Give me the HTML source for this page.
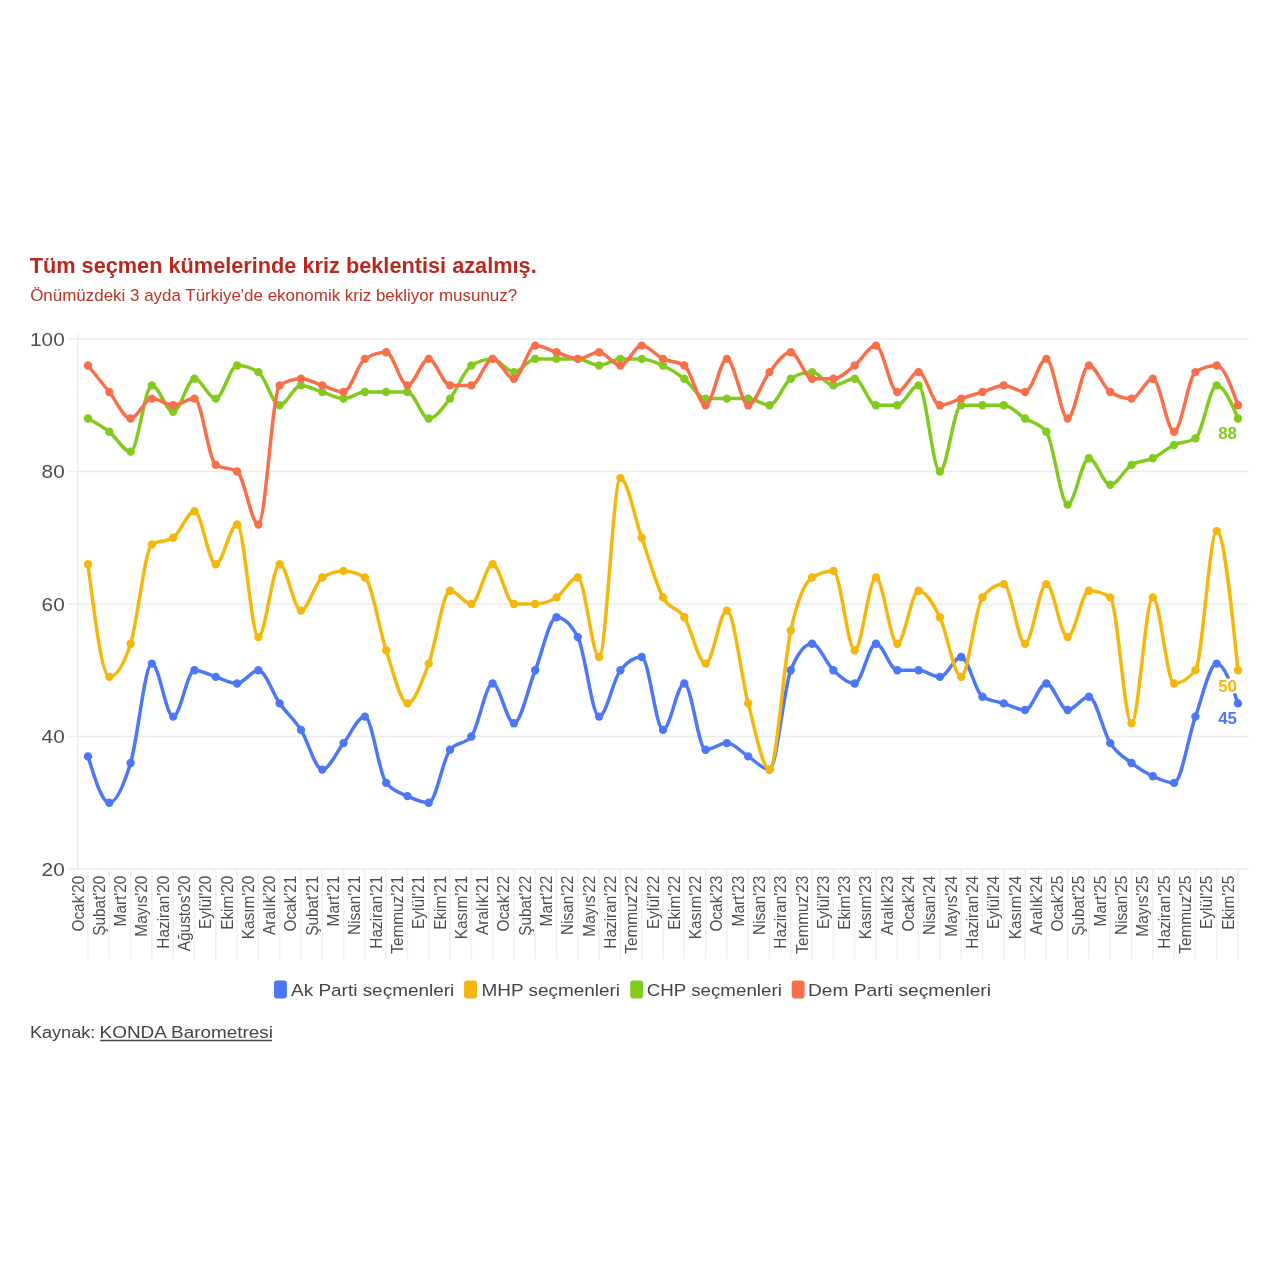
<!DOCTYPE html>
<html lang="tr"><head><meta charset="utf-8"><title>KONDA Barometresi</title>
<style>
html,body{margin:0;padding:0;background:#fff;}
body{width:1280px;height:1280px;position:relative;overflow:hidden;font-family:"Liberation Sans",Arial,sans-serif;}
svg{display:block}
</style></head><body>
<svg width="1280" height="1280" viewBox="0 0 1280 1280" style="position:absolute;left:0;top:0">
<line x1="67.5" x2="1248.6" y1="339.00" y2="339.00" stroke="#ececec" stroke-width="1.6"/>
<line x1="67.5" x2="1248.6" y1="471.50" y2="471.50" stroke="#ececec" stroke-width="1.6"/>
<line x1="67.5" x2="1248.6" y1="604.00" y2="604.00" stroke="#ececec" stroke-width="1.6"/>
<line x1="67.5" x2="1248.6" y1="736.50" y2="736.50" stroke="#ececec" stroke-width="1.6"/>
<line x1="67.5" x2="1248.6" y1="869.00" y2="869.00" stroke="#ececec" stroke-width="1.6"/>
<line x1="77.8" x2="77.8" y1="334.00" y2="869.00" stroke="#ececec" stroke-width="1.6"/>
<line x1="88.00" x2="88.00" y1="869.00" y2="959.5" stroke="#f0f0f0" stroke-width="1.6"/>
<line x1="109.30" x2="109.30" y1="869.00" y2="959.5" stroke="#f0f0f0" stroke-width="1.6"/>
<line x1="130.59" x2="130.59" y1="869.00" y2="959.5" stroke="#f0f0f0" stroke-width="1.6"/>
<line x1="151.89" x2="151.89" y1="869.00" y2="959.5" stroke="#f0f0f0" stroke-width="1.6"/>
<line x1="173.19" x2="173.19" y1="869.00" y2="959.5" stroke="#f0f0f0" stroke-width="1.6"/>
<line x1="194.48" x2="194.48" y1="869.00" y2="959.5" stroke="#f0f0f0" stroke-width="1.6"/>
<line x1="215.78" x2="215.78" y1="869.00" y2="959.5" stroke="#f0f0f0" stroke-width="1.6"/>
<line x1="237.07" x2="237.07" y1="869.00" y2="959.5" stroke="#f0f0f0" stroke-width="1.6"/>
<line x1="258.37" x2="258.37" y1="869.00" y2="959.5" stroke="#f0f0f0" stroke-width="1.6"/>
<line x1="279.67" x2="279.67" y1="869.00" y2="959.5" stroke="#f0f0f0" stroke-width="1.6"/>
<line x1="300.96" x2="300.96" y1="869.00" y2="959.5" stroke="#f0f0f0" stroke-width="1.6"/>
<line x1="322.26" x2="322.26" y1="869.00" y2="959.5" stroke="#f0f0f0" stroke-width="1.6"/>
<line x1="343.56" x2="343.56" y1="869.00" y2="959.5" stroke="#f0f0f0" stroke-width="1.6"/>
<line x1="364.85" x2="364.85" y1="869.00" y2="959.5" stroke="#f0f0f0" stroke-width="1.6"/>
<line x1="386.15" x2="386.15" y1="869.00" y2="959.5" stroke="#f0f0f0" stroke-width="1.6"/>
<line x1="407.44" x2="407.44" y1="869.00" y2="959.5" stroke="#f0f0f0" stroke-width="1.6"/>
<line x1="428.74" x2="428.74" y1="869.00" y2="959.5" stroke="#f0f0f0" stroke-width="1.6"/>
<line x1="450.04" x2="450.04" y1="869.00" y2="959.5" stroke="#f0f0f0" stroke-width="1.6"/>
<line x1="471.33" x2="471.33" y1="869.00" y2="959.5" stroke="#f0f0f0" stroke-width="1.6"/>
<line x1="492.63" x2="492.63" y1="869.00" y2="959.5" stroke="#f0f0f0" stroke-width="1.6"/>
<line x1="513.93" x2="513.93" y1="869.00" y2="959.5" stroke="#f0f0f0" stroke-width="1.6"/>
<line x1="535.22" x2="535.22" y1="869.00" y2="959.5" stroke="#f0f0f0" stroke-width="1.6"/>
<line x1="556.52" x2="556.52" y1="869.00" y2="959.5" stroke="#f0f0f0" stroke-width="1.6"/>
<line x1="577.81" x2="577.81" y1="869.00" y2="959.5" stroke="#f0f0f0" stroke-width="1.6"/>
<line x1="599.11" x2="599.11" y1="869.00" y2="959.5" stroke="#f0f0f0" stroke-width="1.6"/>
<line x1="620.41" x2="620.41" y1="869.00" y2="959.5" stroke="#f0f0f0" stroke-width="1.6"/>
<line x1="641.70" x2="641.70" y1="869.00" y2="959.5" stroke="#f0f0f0" stroke-width="1.6"/>
<line x1="663.00" x2="663.00" y1="869.00" y2="959.5" stroke="#f0f0f0" stroke-width="1.6"/>
<line x1="684.30" x2="684.30" y1="869.00" y2="959.5" stroke="#f0f0f0" stroke-width="1.6"/>
<line x1="705.59" x2="705.59" y1="869.00" y2="959.5" stroke="#f0f0f0" stroke-width="1.6"/>
<line x1="726.89" x2="726.89" y1="869.00" y2="959.5" stroke="#f0f0f0" stroke-width="1.6"/>
<line x1="748.19" x2="748.19" y1="869.00" y2="959.5" stroke="#f0f0f0" stroke-width="1.6"/>
<line x1="769.48" x2="769.48" y1="869.00" y2="959.5" stroke="#f0f0f0" stroke-width="1.6"/>
<line x1="790.78" x2="790.78" y1="869.00" y2="959.5" stroke="#f0f0f0" stroke-width="1.6"/>
<line x1="812.07" x2="812.07" y1="869.00" y2="959.5" stroke="#f0f0f0" stroke-width="1.6"/>
<line x1="833.37" x2="833.37" y1="869.00" y2="959.5" stroke="#f0f0f0" stroke-width="1.6"/>
<line x1="854.67" x2="854.67" y1="869.00" y2="959.5" stroke="#f0f0f0" stroke-width="1.6"/>
<line x1="875.96" x2="875.96" y1="869.00" y2="959.5" stroke="#f0f0f0" stroke-width="1.6"/>
<line x1="897.26" x2="897.26" y1="869.00" y2="959.5" stroke="#f0f0f0" stroke-width="1.6"/>
<line x1="918.56" x2="918.56" y1="869.00" y2="959.5" stroke="#f0f0f0" stroke-width="1.6"/>
<line x1="939.85" x2="939.85" y1="869.00" y2="959.5" stroke="#f0f0f0" stroke-width="1.6"/>
<line x1="961.15" x2="961.15" y1="869.00" y2="959.5" stroke="#f0f0f0" stroke-width="1.6"/>
<line x1="982.44" x2="982.44" y1="869.00" y2="959.5" stroke="#f0f0f0" stroke-width="1.6"/>
<line x1="1003.74" x2="1003.74" y1="869.00" y2="959.5" stroke="#f0f0f0" stroke-width="1.6"/>
<line x1="1025.04" x2="1025.04" y1="869.00" y2="959.5" stroke="#f0f0f0" stroke-width="1.6"/>
<line x1="1046.33" x2="1046.33" y1="869.00" y2="959.5" stroke="#f0f0f0" stroke-width="1.6"/>
<line x1="1067.63" x2="1067.63" y1="869.00" y2="959.5" stroke="#f0f0f0" stroke-width="1.6"/>
<line x1="1088.93" x2="1088.93" y1="869.00" y2="959.5" stroke="#f0f0f0" stroke-width="1.6"/>
<line x1="1110.22" x2="1110.22" y1="869.00" y2="959.5" stroke="#f0f0f0" stroke-width="1.6"/>
<line x1="1131.52" x2="1131.52" y1="869.00" y2="959.5" stroke="#f0f0f0" stroke-width="1.6"/>
<line x1="1152.81" x2="1152.81" y1="869.00" y2="959.5" stroke="#f0f0f0" stroke-width="1.6"/>
<line x1="1174.11" x2="1174.11" y1="869.00" y2="959.5" stroke="#f0f0f0" stroke-width="1.6"/>
<line x1="1195.41" x2="1195.41" y1="869.00" y2="959.5" stroke="#f0f0f0" stroke-width="1.6"/>
<line x1="1216.70" x2="1216.70" y1="869.00" y2="959.5" stroke="#f0f0f0" stroke-width="1.6"/>
<line x1="1238.00" x2="1238.00" y1="869.00" y2="959.5" stroke="#f0f0f0" stroke-width="1.6"/>
<g font-family="'Liberation Sans', Arial, sans-serif" font-size="18.5" fill="#4d4d4d" text-anchor="end" >
<text x="64.7" y="345.50" textLength="34.6" lengthAdjust="spacingAndGlyphs">100</text>
<text x="64.7" y="478.00" textLength="23.1" lengthAdjust="spacingAndGlyphs">80</text>
<text x="64.7" y="610.50" textLength="23.1" lengthAdjust="spacingAndGlyphs">60</text>
<text x="64.7" y="743.00" textLength="23.1" lengthAdjust="spacingAndGlyphs">40</text>
<text x="64.7" y="875.50" textLength="23.1" lengthAdjust="spacingAndGlyphs">20</text>
</g>
<g font-family="'Liberation Sans', Arial, sans-serif" font-size="16" fill="#4d4d4d" text-anchor="end" >
<text transform="translate(83.50,875.6) rotate(-90) scale(0.962,1)">Ocak'20</text>
<text transform="translate(104.80,875.6) rotate(-90) scale(0.962,1)">Şubat'20</text>
<text transform="translate(126.09,875.6) rotate(-90) scale(0.962,1)">Mart'20</text>
<text transform="translate(147.39,875.6) rotate(-90) scale(0.962,1)">Mayıs'20</text>
<text transform="translate(168.69,875.6) rotate(-90) scale(0.962,1)">Haziran'20</text>
<text transform="translate(189.98,875.6) rotate(-90) scale(0.962,1)">Ağustos'20</text>
<text transform="translate(211.28,875.6) rotate(-90) scale(0.962,1)">Eylül'20</text>
<text transform="translate(232.57,875.6) rotate(-90) scale(0.962,1)">Ekim'20</text>
<text transform="translate(253.87,875.6) rotate(-90) scale(0.962,1)">Kasım'20</text>
<text transform="translate(275.17,875.6) rotate(-90) scale(0.962,1)">Aralık'20</text>
<text transform="translate(296.46,875.6) rotate(-90) scale(0.962,1)">Ocak'21</text>
<text transform="translate(317.76,875.6) rotate(-90) scale(0.962,1)">Şubat'21</text>
<text transform="translate(339.06,875.6) rotate(-90) scale(0.962,1)">Mart'21</text>
<text transform="translate(360.35,875.6) rotate(-90) scale(0.962,1)">Nisan'21</text>
<text transform="translate(381.65,875.6) rotate(-90) scale(0.962,1)">Haziran'21</text>
<text transform="translate(402.94,875.6) rotate(-90) scale(0.962,1)">Temmuz'21</text>
<text transform="translate(424.24,875.6) rotate(-90) scale(0.962,1)">Eylül'21</text>
<text transform="translate(445.54,875.6) rotate(-90) scale(0.962,1)">Ekim'21</text>
<text transform="translate(466.83,875.6) rotate(-90) scale(0.962,1)">Kasım'21</text>
<text transform="translate(488.13,875.6) rotate(-90) scale(0.962,1)">Aralık'21</text>
<text transform="translate(509.43,875.6) rotate(-90) scale(0.962,1)">Ocak'22</text>
<text transform="translate(530.72,875.6) rotate(-90) scale(0.962,1)">Şubat'22</text>
<text transform="translate(552.02,875.6) rotate(-90) scale(0.962,1)">Mart'22</text>
<text transform="translate(573.31,875.6) rotate(-90) scale(0.962,1)">Nisan'22</text>
<text transform="translate(594.61,875.6) rotate(-90) scale(0.962,1)">Mayıs'22</text>
<text transform="translate(615.91,875.6) rotate(-90) scale(0.962,1)">Haziran'22</text>
<text transform="translate(637.20,875.6) rotate(-90) scale(0.962,1)">Temmuz'22</text>
<text transform="translate(658.50,875.6) rotate(-90) scale(0.962,1)">Eylül'22</text>
<text transform="translate(679.80,875.6) rotate(-90) scale(0.962,1)">Ekim'22</text>
<text transform="translate(701.09,875.6) rotate(-90) scale(0.962,1)">Kasım'22</text>
<text transform="translate(722.39,875.6) rotate(-90) scale(0.962,1)">Ocak'23</text>
<text transform="translate(743.69,875.6) rotate(-90) scale(0.962,1)">Mart'23</text>
<text transform="translate(764.98,875.6) rotate(-90) scale(0.962,1)">Nisan'23</text>
<text transform="translate(786.28,875.6) rotate(-90) scale(0.962,1)">Haziran'23</text>
<text transform="translate(807.57,875.6) rotate(-90) scale(0.962,1)">Temmuz'23</text>
<text transform="translate(828.87,875.6) rotate(-90) scale(0.962,1)">Eylül'23</text>
<text transform="translate(850.17,875.6) rotate(-90) scale(0.962,1)">Ekim'23</text>
<text transform="translate(871.46,875.6) rotate(-90) scale(0.962,1)">Kasım'23</text>
<text transform="translate(892.76,875.6) rotate(-90) scale(0.962,1)">Aralık'23</text>
<text transform="translate(914.06,875.6) rotate(-90) scale(0.962,1)">Ocak'24</text>
<text transform="translate(935.35,875.6) rotate(-90) scale(0.962,1)">Nisan'24</text>
<text transform="translate(956.65,875.6) rotate(-90) scale(0.962,1)">Mayıs'24</text>
<text transform="translate(977.94,875.6) rotate(-90) scale(0.962,1)">Haziran'24</text>
<text transform="translate(999.24,875.6) rotate(-90) scale(0.962,1)">Eylül'24</text>
<text transform="translate(1020.54,875.6) rotate(-90) scale(0.962,1)">Kasım'24</text>
<text transform="translate(1041.83,875.6) rotate(-90) scale(0.962,1)">Aralık'24</text>
<text transform="translate(1063.13,875.6) rotate(-90) scale(0.962,1)">Ocak'25</text>
<text transform="translate(1084.43,875.6) rotate(-90) scale(0.962,1)">Şubat'25</text>
<text transform="translate(1105.72,875.6) rotate(-90) scale(0.962,1)">Mart'25</text>
<text transform="translate(1127.02,875.6) rotate(-90) scale(0.962,1)">Nisan'25</text>
<text transform="translate(1148.31,875.6) rotate(-90) scale(0.962,1)">Mayıs'25</text>
<text transform="translate(1169.61,875.6) rotate(-90) scale(0.962,1)">Haziran'25</text>
<text transform="translate(1190.91,875.6) rotate(-90) scale(0.962,1)">Temmuz'25</text>
<text transform="translate(1212.20,875.6) rotate(-90) scale(0.962,1)">Eylül'25</text>
<text transform="translate(1233.50,875.6) rotate(-90) scale(0.962,1)">Ekim'25</text>
</g>
<g fill="#4b77f8" stroke="none">
<path d="M88.00,756.38C95.10,779.56,102.20,802.75,109.30,802.75C116.40,802.75,123.49,786.19,130.59,763.00C137.69,739.81,144.79,663.62,151.89,663.62C158.99,663.62,166.09,716.62,173.19,716.62C180.28,716.62,187.38,670.25,194.48,670.25C201.58,670.25,208.68,674.67,215.78,676.88C222.88,679.08,229.98,683.50,237.07,683.50C244.17,683.50,251.27,670.25,258.37,670.25C265.47,670.25,272.57,693.44,279.67,703.38C286.77,713.31,293.86,718.83,300.96,729.88C308.06,740.92,315.16,769.62,322.26,769.62C329.36,769.62,336.46,751.96,343.56,743.12C350.65,734.29,357.75,716.62,364.85,716.62C371.95,716.62,379.05,774.04,386.15,782.88C393.25,791.71,400.35,792.81,407.44,796.12C414.54,799.44,421.64,802.75,428.74,802.75C435.84,802.75,442.94,758.58,450.04,749.75C457.14,740.92,464.23,745.33,471.33,736.50C478.43,727.67,485.53,683.50,492.63,683.50C499.73,683.50,506.83,723.25,513.93,723.25C521.02,723.25,528.12,687.92,535.22,670.25C542.32,652.58,549.42,617.25,556.52,617.25C563.62,617.25,570.72,623.88,577.81,637.12C584.91,650.38,592.01,716.62,599.11,716.62C606.21,716.62,613.31,679.08,620.41,670.25C627.51,661.42,634.60,657.00,641.70,657.00C648.80,657.00,655.90,729.88,663.00,729.88C670.10,729.88,677.20,683.50,684.30,683.50C691.40,683.50,698.49,749.75,705.59,749.75C712.69,749.75,719.79,743.12,726.89,743.12C733.99,743.12,741.09,751.96,748.19,756.38C755.28,760.79,762.38,769.62,769.48,769.62C776.58,769.62,783.68,687.92,790.78,670.25C797.88,652.58,804.98,643.75,812.07,643.75C819.17,643.75,826.27,663.62,833.37,670.25C840.47,676.88,847.57,683.50,854.67,683.50C861.77,683.50,868.86,643.75,875.96,643.75C883.06,643.75,890.16,670.25,897.26,670.25C904.36,670.25,911.46,670.25,918.56,670.25C925.65,670.25,932.75,676.88,939.85,676.88C946.95,676.88,954.05,657.00,961.15,657.00C968.25,657.00,975.35,692.33,982.44,696.75C989.54,701.17,996.64,701.17,1003.74,703.38C1010.84,705.58,1017.94,710.00,1025.04,710.00C1032.14,710.00,1039.23,683.50,1046.33,683.50C1053.43,683.50,1060.53,710.00,1067.63,710.00C1074.73,710.00,1081.83,696.75,1088.93,696.75C1096.02,696.75,1103.12,732.08,1110.22,743.12C1117.32,754.17,1124.42,757.48,1131.52,763.00C1138.62,768.52,1145.72,772.94,1152.81,776.25C1159.91,779.56,1167.01,782.88,1174.11,782.88C1181.21,782.88,1188.31,736.50,1195.41,716.62C1202.51,696.75,1209.60,663.62,1216.70,663.62C1223.80,663.62,1230.90,683.50,1238.00,703.38" fill="none" stroke="#4b77f8" stroke-width="3.5" stroke-linejoin="round" stroke-linecap="round"/>
<circle cx="88.00" cy="756.38" r="4.2"/>
<circle cx="109.30" cy="802.75" r="4.2"/>
<circle cx="130.59" cy="763.00" r="4.2"/>
<circle cx="151.89" cy="663.62" r="4.2"/>
<circle cx="173.19" cy="716.62" r="4.2"/>
<circle cx="194.48" cy="670.25" r="4.2"/>
<circle cx="215.78" cy="676.88" r="4.2"/>
<circle cx="237.07" cy="683.50" r="4.2"/>
<circle cx="258.37" cy="670.25" r="4.2"/>
<circle cx="279.67" cy="703.38" r="4.2"/>
<circle cx="300.96" cy="729.88" r="4.2"/>
<circle cx="322.26" cy="769.62" r="4.2"/>
<circle cx="343.56" cy="743.12" r="4.2"/>
<circle cx="364.85" cy="716.62" r="4.2"/>
<circle cx="386.15" cy="782.88" r="4.2"/>
<circle cx="407.44" cy="796.12" r="4.2"/>
<circle cx="428.74" cy="802.75" r="4.2"/>
<circle cx="450.04" cy="749.75" r="4.2"/>
<circle cx="471.33" cy="736.50" r="4.2"/>
<circle cx="492.63" cy="683.50" r="4.2"/>
<circle cx="513.93" cy="723.25" r="4.2"/>
<circle cx="535.22" cy="670.25" r="4.2"/>
<circle cx="556.52" cy="617.25" r="4.2"/>
<circle cx="577.81" cy="637.12" r="4.2"/>
<circle cx="599.11" cy="716.62" r="4.2"/>
<circle cx="620.41" cy="670.25" r="4.2"/>
<circle cx="641.70" cy="657.00" r="4.2"/>
<circle cx="663.00" cy="729.88" r="4.2"/>
<circle cx="684.30" cy="683.50" r="4.2"/>
<circle cx="705.59" cy="749.75" r="4.2"/>
<circle cx="726.89" cy="743.12" r="4.2"/>
<circle cx="748.19" cy="756.38" r="4.2"/>
<circle cx="769.48" cy="769.62" r="4.2"/>
<circle cx="790.78" cy="670.25" r="4.2"/>
<circle cx="812.07" cy="643.75" r="4.2"/>
<circle cx="833.37" cy="670.25" r="4.2"/>
<circle cx="854.67" cy="683.50" r="4.2"/>
<circle cx="875.96" cy="643.75" r="4.2"/>
<circle cx="897.26" cy="670.25" r="4.2"/>
<circle cx="918.56" cy="670.25" r="4.2"/>
<circle cx="939.85" cy="676.88" r="4.2"/>
<circle cx="961.15" cy="657.00" r="4.2"/>
<circle cx="982.44" cy="696.75" r="4.2"/>
<circle cx="1003.74" cy="703.38" r="4.2"/>
<circle cx="1025.04" cy="710.00" r="4.2"/>
<circle cx="1046.33" cy="683.50" r="4.2"/>
<circle cx="1067.63" cy="710.00" r="4.2"/>
<circle cx="1088.93" cy="696.75" r="4.2"/>
<circle cx="1110.22" cy="743.12" r="4.2"/>
<circle cx="1131.52" cy="763.00" r="4.2"/>
<circle cx="1152.81" cy="776.25" r="4.2"/>
<circle cx="1174.11" cy="782.88" r="4.2"/>
<circle cx="1195.41" cy="716.62" r="4.2"/>
<circle cx="1216.70" cy="663.62" r="4.2"/>
<circle cx="1238.00" cy="703.38" r="4.2"/>
</g>
<g fill="#f5b70b" stroke="none">
<path d="M88.00,564.25C95.10,620.56,102.20,676.88,109.30,676.88C116.40,676.88,123.49,665.83,130.59,643.75C137.69,621.67,144.79,548.79,151.89,544.38C158.99,539.96,166.09,542.17,173.19,537.75C180.28,533.33,187.38,511.25,194.48,511.25C201.58,511.25,208.68,564.25,215.78,564.25C222.88,564.25,229.98,524.50,237.07,524.50C244.17,524.50,251.27,637.12,258.37,637.12C265.47,637.12,272.57,564.25,279.67,564.25C286.77,564.25,293.86,610.62,300.96,610.62C308.06,610.62,315.16,581.92,322.26,577.50C329.36,573.08,336.46,570.88,343.56,570.88C350.65,570.88,357.75,573.08,364.85,577.50C371.95,581.92,379.05,629.40,386.15,650.38C393.25,671.35,400.35,703.38,407.44,703.38C414.54,703.38,421.64,682.40,428.74,663.62C435.84,644.85,442.94,590.75,450.04,590.75C457.14,590.75,464.23,604.00,471.33,604.00C478.43,604.00,485.53,564.25,492.63,564.25C499.73,564.25,506.83,604.00,513.93,604.00C521.02,604.00,528.12,604.00,535.22,604.00C542.32,604.00,549.42,601.79,556.52,597.38C563.62,592.96,570.72,577.50,577.81,577.50C584.91,577.50,592.01,657.00,599.11,657.00C606.21,657.00,613.31,478.12,620.41,478.12C627.51,478.12,634.60,517.88,641.70,537.75C648.80,557.62,655.90,584.12,663.00,597.38C670.10,610.62,677.20,606.21,684.30,617.25C691.40,628.29,698.49,663.62,705.59,663.62C712.69,663.62,719.79,610.62,726.89,610.62C733.99,610.62,741.09,676.88,748.19,703.38C755.28,729.88,762.38,769.62,769.48,769.62C776.58,769.62,783.68,662.52,790.78,630.50C797.88,598.48,804.98,581.92,812.07,577.50C819.17,573.08,826.27,570.88,833.37,570.88C840.47,570.88,847.57,650.38,854.67,650.38C861.77,650.38,868.86,577.50,875.96,577.50C883.06,577.50,890.16,643.75,897.26,643.75C904.36,643.75,911.46,590.75,918.56,590.75C925.65,590.75,932.75,602.90,939.85,617.25C946.95,631.60,954.05,676.88,961.15,676.88C968.25,676.88,975.35,606.21,982.44,597.38C989.54,588.54,996.64,584.12,1003.74,584.12C1010.84,584.12,1017.94,643.75,1025.04,643.75C1032.14,643.75,1039.23,584.12,1046.33,584.12C1053.43,584.12,1060.53,637.12,1067.63,637.12C1074.73,637.12,1081.83,590.75,1088.93,590.75C1096.02,590.75,1103.12,592.96,1110.22,597.38C1117.32,601.79,1124.42,723.25,1131.52,723.25C1138.62,723.25,1145.72,597.38,1152.81,597.38C1159.91,597.38,1167.01,683.50,1174.11,683.50C1181.21,683.50,1188.31,679.08,1195.41,670.25C1202.51,661.42,1209.60,531.12,1216.70,531.12C1223.80,531.12,1230.90,600.69,1238.00,670.25" fill="none" stroke="#f5b70b" stroke-width="3.5" stroke-linejoin="round" stroke-linecap="round"/>
<circle cx="88.00" cy="564.25" r="4.2"/>
<circle cx="109.30" cy="676.88" r="4.2"/>
<circle cx="130.59" cy="643.75" r="4.2"/>
<circle cx="151.89" cy="544.38" r="4.2"/>
<circle cx="173.19" cy="537.75" r="4.2"/>
<circle cx="194.48" cy="511.25" r="4.2"/>
<circle cx="215.78" cy="564.25" r="4.2"/>
<circle cx="237.07" cy="524.50" r="4.2"/>
<circle cx="258.37" cy="637.12" r="4.2"/>
<circle cx="279.67" cy="564.25" r="4.2"/>
<circle cx="300.96" cy="610.62" r="4.2"/>
<circle cx="322.26" cy="577.50" r="4.2"/>
<circle cx="343.56" cy="570.88" r="4.2"/>
<circle cx="364.85" cy="577.50" r="4.2"/>
<circle cx="386.15" cy="650.38" r="4.2"/>
<circle cx="407.44" cy="703.38" r="4.2"/>
<circle cx="428.74" cy="663.62" r="4.2"/>
<circle cx="450.04" cy="590.75" r="4.2"/>
<circle cx="471.33" cy="604.00" r="4.2"/>
<circle cx="492.63" cy="564.25" r="4.2"/>
<circle cx="513.93" cy="604.00" r="4.2"/>
<circle cx="535.22" cy="604.00" r="4.2"/>
<circle cx="556.52" cy="597.38" r="4.2"/>
<circle cx="577.81" cy="577.50" r="4.2"/>
<circle cx="599.11" cy="657.00" r="4.2"/>
<circle cx="620.41" cy="478.12" r="4.2"/>
<circle cx="641.70" cy="537.75" r="4.2"/>
<circle cx="663.00" cy="597.38" r="4.2"/>
<circle cx="684.30" cy="617.25" r="4.2"/>
<circle cx="705.59" cy="663.62" r="4.2"/>
<circle cx="726.89" cy="610.62" r="4.2"/>
<circle cx="748.19" cy="703.38" r="4.2"/>
<circle cx="769.48" cy="769.62" r="4.2"/>
<circle cx="790.78" cy="630.50" r="4.2"/>
<circle cx="812.07" cy="577.50" r="4.2"/>
<circle cx="833.37" cy="570.88" r="4.2"/>
<circle cx="854.67" cy="650.38" r="4.2"/>
<circle cx="875.96" cy="577.50" r="4.2"/>
<circle cx="897.26" cy="643.75" r="4.2"/>
<circle cx="918.56" cy="590.75" r="4.2"/>
<circle cx="939.85" cy="617.25" r="4.2"/>
<circle cx="961.15" cy="676.88" r="4.2"/>
<circle cx="982.44" cy="597.38" r="4.2"/>
<circle cx="1003.74" cy="584.12" r="4.2"/>
<circle cx="1025.04" cy="643.75" r="4.2"/>
<circle cx="1046.33" cy="584.12" r="4.2"/>
<circle cx="1067.63" cy="637.12" r="4.2"/>
<circle cx="1088.93" cy="590.75" r="4.2"/>
<circle cx="1110.22" cy="597.38" r="4.2"/>
<circle cx="1131.52" cy="723.25" r="4.2"/>
<circle cx="1152.81" cy="597.38" r="4.2"/>
<circle cx="1174.11" cy="683.50" r="4.2"/>
<circle cx="1195.41" cy="670.25" r="4.2"/>
<circle cx="1216.70" cy="531.12" r="4.2"/>
<circle cx="1238.00" cy="670.25" r="4.2"/>
</g>
<g fill="#82ca1c" stroke="none">
<path d="M88.00,418.50C95.10,422.36,102.20,426.23,109.30,431.75C116.40,437.27,123.49,451.62,130.59,451.62C137.69,451.62,144.79,385.38,151.89,385.38C158.99,385.38,166.09,411.88,173.19,411.88C180.28,411.88,187.38,378.75,194.48,378.75C201.58,378.75,208.68,398.62,215.78,398.62C222.88,398.62,229.98,365.50,237.07,365.50C244.17,365.50,251.27,367.71,258.37,372.12C265.47,376.54,272.57,405.25,279.67,405.25C286.77,405.25,293.86,385.38,300.96,385.38C308.06,385.38,315.16,389.79,322.26,392.00C329.36,394.21,336.46,398.62,343.56,398.62C350.65,398.62,357.75,392.00,364.85,392.00C371.95,392.00,379.05,392.00,386.15,392.00C393.25,392.00,400.35,392.00,407.44,392.00C414.54,392.00,421.64,418.50,428.74,418.50C435.84,418.50,442.94,407.46,450.04,398.62C457.14,389.79,464.23,369.92,471.33,365.50C478.43,361.08,485.53,358.88,492.63,358.88C499.73,358.88,506.83,372.12,513.93,372.12C521.02,372.12,528.12,358.88,535.22,358.88C542.32,358.88,549.42,358.88,556.52,358.88C563.62,358.88,570.72,358.88,577.81,358.88C584.91,358.88,592.01,365.50,599.11,365.50C606.21,365.50,613.31,358.88,620.41,358.88C627.51,358.88,634.60,358.88,641.70,358.88C648.80,358.88,655.90,362.19,663.00,365.50C670.10,368.81,677.20,373.23,684.30,378.75C691.40,384.27,698.49,398.62,705.59,398.62C712.69,398.62,719.79,398.62,726.89,398.62C733.99,398.62,741.09,398.62,748.19,398.62C755.28,398.62,762.38,405.25,769.48,405.25C776.58,405.25,783.68,383.17,790.78,378.75C797.88,374.33,804.98,372.12,812.07,372.12C819.17,372.12,826.27,385.38,833.37,385.38C840.47,385.38,847.57,378.75,854.67,378.75C861.77,378.75,868.86,405.25,875.96,405.25C883.06,405.25,890.16,405.25,897.26,405.25C904.36,405.25,911.46,385.38,918.56,385.38C925.65,385.38,932.75,471.50,939.85,471.50C946.95,471.50,954.05,405.25,961.15,405.25C968.25,405.25,975.35,405.25,982.44,405.25C989.54,405.25,996.64,405.25,1003.74,405.25C1010.84,405.25,1017.94,414.08,1025.04,418.50C1032.14,422.92,1039.23,422.92,1046.33,431.75C1053.43,440.58,1060.53,504.62,1067.63,504.62C1074.73,504.62,1081.83,458.25,1088.93,458.25C1096.02,458.25,1103.12,484.75,1110.22,484.75C1117.32,484.75,1124.42,469.29,1131.52,464.88C1138.62,460.46,1145.72,461.56,1152.81,458.25C1159.91,454.94,1167.01,448.31,1174.11,445.00C1181.21,441.69,1188.31,442.79,1195.41,438.38C1202.51,433.96,1209.60,385.38,1216.70,385.38C1223.80,385.38,1230.90,401.94,1238.00,418.50" fill="none" stroke="#82ca1c" stroke-width="3.5" stroke-linejoin="round" stroke-linecap="round"/>
<circle cx="88.00" cy="418.50" r="4.2"/>
<circle cx="109.30" cy="431.75" r="4.2"/>
<circle cx="130.59" cy="451.62" r="4.2"/>
<circle cx="151.89" cy="385.38" r="4.2"/>
<circle cx="173.19" cy="411.88" r="4.2"/>
<circle cx="194.48" cy="378.75" r="4.2"/>
<circle cx="215.78" cy="398.62" r="4.2"/>
<circle cx="237.07" cy="365.50" r="4.2"/>
<circle cx="258.37" cy="372.12" r="4.2"/>
<circle cx="279.67" cy="405.25" r="4.2"/>
<circle cx="300.96" cy="385.38" r="4.2"/>
<circle cx="322.26" cy="392.00" r="4.2"/>
<circle cx="343.56" cy="398.62" r="4.2"/>
<circle cx="364.85" cy="392.00" r="4.2"/>
<circle cx="386.15" cy="392.00" r="4.2"/>
<circle cx="407.44" cy="392.00" r="4.2"/>
<circle cx="428.74" cy="418.50" r="4.2"/>
<circle cx="450.04" cy="398.62" r="4.2"/>
<circle cx="471.33" cy="365.50" r="4.2"/>
<circle cx="492.63" cy="358.88" r="4.2"/>
<circle cx="513.93" cy="372.12" r="4.2"/>
<circle cx="535.22" cy="358.88" r="4.2"/>
<circle cx="556.52" cy="358.88" r="4.2"/>
<circle cx="577.81" cy="358.88" r="4.2"/>
<circle cx="599.11" cy="365.50" r="4.2"/>
<circle cx="620.41" cy="358.88" r="4.2"/>
<circle cx="641.70" cy="358.88" r="4.2"/>
<circle cx="663.00" cy="365.50" r="4.2"/>
<circle cx="684.30" cy="378.75" r="4.2"/>
<circle cx="705.59" cy="398.62" r="4.2"/>
<circle cx="726.89" cy="398.62" r="4.2"/>
<circle cx="748.19" cy="398.62" r="4.2"/>
<circle cx="769.48" cy="405.25" r="4.2"/>
<circle cx="790.78" cy="378.75" r="4.2"/>
<circle cx="812.07" cy="372.12" r="4.2"/>
<circle cx="833.37" cy="385.38" r="4.2"/>
<circle cx="854.67" cy="378.75" r="4.2"/>
<circle cx="875.96" cy="405.25" r="4.2"/>
<circle cx="897.26" cy="405.25" r="4.2"/>
<circle cx="918.56" cy="385.38" r="4.2"/>
<circle cx="939.85" cy="471.50" r="4.2"/>
<circle cx="961.15" cy="405.25" r="4.2"/>
<circle cx="982.44" cy="405.25" r="4.2"/>
<circle cx="1003.74" cy="405.25" r="4.2"/>
<circle cx="1025.04" cy="418.50" r="4.2"/>
<circle cx="1046.33" cy="431.75" r="4.2"/>
<circle cx="1067.63" cy="504.62" r="4.2"/>
<circle cx="1088.93" cy="458.25" r="4.2"/>
<circle cx="1110.22" cy="484.75" r="4.2"/>
<circle cx="1131.52" cy="464.88" r="4.2"/>
<circle cx="1152.81" cy="458.25" r="4.2"/>
<circle cx="1174.11" cy="445.00" r="4.2"/>
<circle cx="1195.41" cy="438.38" r="4.2"/>
<circle cx="1216.70" cy="385.38" r="4.2"/>
<circle cx="1238.00" cy="418.50" r="4.2"/>
</g>
<g fill="#f96f49" stroke="none">
<path d="M88.00,365.50C95.10,374.33,102.20,383.17,109.30,392.00C116.40,400.83,123.49,418.50,130.59,418.50C137.69,418.50,144.79,398.62,151.89,398.62C158.99,398.62,166.09,405.25,173.19,405.25C180.28,405.25,187.38,398.62,194.48,398.62C201.58,398.62,208.68,460.46,215.78,464.88C222.88,469.29,229.98,467.08,237.07,471.50C244.17,475.92,251.27,524.50,258.37,524.50C265.47,524.50,272.57,389.79,279.67,385.38C286.77,380.96,293.86,378.75,300.96,378.75C308.06,378.75,315.16,383.17,322.26,385.38C329.36,387.58,336.46,392.00,343.56,392.00C350.65,392.00,357.75,363.29,364.85,358.88C371.95,354.46,379.05,352.25,386.15,352.25C393.25,352.25,400.35,385.38,407.44,385.38C414.54,385.38,421.64,358.88,428.74,358.88C435.84,358.88,442.94,385.38,450.04,385.38C457.14,385.38,464.23,385.38,471.33,385.38C478.43,385.38,485.53,358.88,492.63,358.88C499.73,358.88,506.83,378.75,513.93,378.75C521.02,378.75,528.12,345.62,535.22,345.62C542.32,345.62,549.42,350.04,556.52,352.25C563.62,354.46,570.72,358.88,577.81,358.88C584.91,358.88,592.01,352.25,599.11,352.25C606.21,352.25,613.31,365.50,620.41,365.50C627.51,365.50,634.60,345.62,641.70,345.62C648.80,345.62,655.90,355.56,663.00,358.88C670.10,362.19,677.20,361.08,684.30,365.50C691.40,369.92,698.49,405.25,705.59,405.25C712.69,405.25,719.79,358.88,726.89,358.88C733.99,358.88,741.09,405.25,748.19,405.25C755.28,405.25,762.38,380.96,769.48,372.12C776.58,363.29,783.68,352.25,790.78,352.25C797.88,352.25,804.98,378.75,812.07,378.75C819.17,378.75,826.27,378.75,833.37,378.75C840.47,378.75,847.57,371.02,854.67,365.50C861.77,359.98,868.86,345.62,875.96,345.62C883.06,345.62,890.16,392.00,897.26,392.00C904.36,392.00,911.46,372.12,918.56,372.12C925.65,372.12,932.75,405.25,939.85,405.25C946.95,405.25,954.05,400.83,961.15,398.62C968.25,396.42,975.35,394.21,982.44,392.00C989.54,389.79,996.64,385.38,1003.74,385.38C1010.84,385.38,1017.94,392.00,1025.04,392.00C1032.14,392.00,1039.23,358.88,1046.33,358.88C1053.43,358.88,1060.53,418.50,1067.63,418.50C1074.73,418.50,1081.83,365.50,1088.93,365.50C1096.02,365.50,1103.12,387.58,1110.22,392.00C1117.32,396.42,1124.42,398.62,1131.52,398.62C1138.62,398.62,1145.72,378.75,1152.81,378.75C1159.91,378.75,1167.01,431.75,1174.11,431.75C1181.21,431.75,1188.31,376.54,1195.41,372.12C1202.51,367.71,1209.60,365.50,1216.70,365.50C1223.80,365.50,1230.90,385.38,1238.00,405.25" fill="none" stroke="#f96f49" stroke-width="3.5" stroke-linejoin="round" stroke-linecap="round"/>
<circle cx="88.00" cy="365.50" r="4.2"/>
<circle cx="109.30" cy="392.00" r="4.2"/>
<circle cx="130.59" cy="418.50" r="4.2"/>
<circle cx="151.89" cy="398.62" r="4.2"/>
<circle cx="173.19" cy="405.25" r="4.2"/>
<circle cx="194.48" cy="398.62" r="4.2"/>
<circle cx="215.78" cy="464.88" r="4.2"/>
<circle cx="237.07" cy="471.50" r="4.2"/>
<circle cx="258.37" cy="524.50" r="4.2"/>
<circle cx="279.67" cy="385.38" r="4.2"/>
<circle cx="300.96" cy="378.75" r="4.2"/>
<circle cx="322.26" cy="385.38" r="4.2"/>
<circle cx="343.56" cy="392.00" r="4.2"/>
<circle cx="364.85" cy="358.88" r="4.2"/>
<circle cx="386.15" cy="352.25" r="4.2"/>
<circle cx="407.44" cy="385.38" r="4.2"/>
<circle cx="428.74" cy="358.88" r="4.2"/>
<circle cx="450.04" cy="385.38" r="4.2"/>
<circle cx="471.33" cy="385.38" r="4.2"/>
<circle cx="492.63" cy="358.88" r="4.2"/>
<circle cx="513.93" cy="378.75" r="4.2"/>
<circle cx="535.22" cy="345.62" r="4.2"/>
<circle cx="556.52" cy="352.25" r="4.2"/>
<circle cx="577.81" cy="358.88" r="4.2"/>
<circle cx="599.11" cy="352.25" r="4.2"/>
<circle cx="620.41" cy="365.50" r="4.2"/>
<circle cx="641.70" cy="345.62" r="4.2"/>
<circle cx="663.00" cy="358.88" r="4.2"/>
<circle cx="684.30" cy="365.50" r="4.2"/>
<circle cx="705.59" cy="405.25" r="4.2"/>
<circle cx="726.89" cy="358.88" r="4.2"/>
<circle cx="748.19" cy="405.25" r="4.2"/>
<circle cx="769.48" cy="372.12" r="4.2"/>
<circle cx="790.78" cy="352.25" r="4.2"/>
<circle cx="812.07" cy="378.75" r="4.2"/>
<circle cx="833.37" cy="378.75" r="4.2"/>
<circle cx="854.67" cy="365.50" r="4.2"/>
<circle cx="875.96" cy="345.62" r="4.2"/>
<circle cx="897.26" cy="392.00" r="4.2"/>
<circle cx="918.56" cy="372.12" r="4.2"/>
<circle cx="939.85" cy="405.25" r="4.2"/>
<circle cx="961.15" cy="398.62" r="4.2"/>
<circle cx="982.44" cy="392.00" r="4.2"/>
<circle cx="1003.74" cy="385.38" r="4.2"/>
<circle cx="1025.04" cy="392.00" r="4.2"/>
<circle cx="1046.33" cy="358.88" r="4.2"/>
<circle cx="1067.63" cy="418.50" r="4.2"/>
<circle cx="1088.93" cy="365.50" r="4.2"/>
<circle cx="1110.22" cy="392.00" r="4.2"/>
<circle cx="1131.52" cy="398.62" r="4.2"/>
<circle cx="1152.81" cy="378.75" r="4.2"/>
<circle cx="1174.11" cy="431.75" r="4.2"/>
<circle cx="1195.41" cy="372.12" r="4.2"/>
<circle cx="1216.70" cy="365.50" r="4.2"/>
<circle cx="1238.00" cy="405.25" r="4.2"/>
</g>
<g font-family="'Liberation Sans', Arial, sans-serif" font-size="16" font-weight="bold" text-anchor="end" stroke="#fff" stroke-width="4" stroke-linejoin="round" paint-order="stroke" >
<text x="1237" y="438.5" fill="#82ca1c" textLength="18.8" lengthAdjust="spacingAndGlyphs">88</text>
<text x="1237" y="691.5" fill="#f5b70b" textLength="18.8" lengthAdjust="spacingAndGlyphs">50</text>
<text x="1237" y="723.5" fill="#4b77f8" textLength="18.8" lengthAdjust="spacingAndGlyphs">45</text>
</g>
<g font-family="'Liberation Sans', Arial, sans-serif">
<text x="29.7" y="272.6" font-size="21.6" fill="#b9291f" font-weight="bold" textLength="507" lengthAdjust="spacingAndGlyphs" >Tüm seçmen kümelerinde kriz beklentisi azalmış.</text>
<text x="30.2" y="301.2" font-size="17" fill="#bb3428" textLength="487" lengthAdjust="spacingAndGlyphs" >Önümüzdeki 3 ayda Türkiye'de ekonomik kriz bekliyor musunuz?</text>
<rect x="274" y="980.6" width="12.9" height="17.8" rx="2.8" fill="#4b77f8"/>
<text x="291" y="996" font-size="17.2" fill="#444" textLength="163.3" lengthAdjust="spacingAndGlyphs" >Ak Parti seçmenleri</text>
<rect x="464.1" y="980.6" width="12.9" height="17.8" rx="2.8" fill="#f5b70b"/>
<text x="481.5" y="996" font-size="17.2" fill="#444" textLength="138.5" lengthAdjust="spacingAndGlyphs" >MHP seçmenleri</text>
<rect x="630.2" y="980.6" width="12.9" height="17.8" rx="2.8" fill="#82ca1c"/>
<text x="646.8" y="996" font-size="17.2" fill="#444" textLength="135" lengthAdjust="spacingAndGlyphs" >CHP seçmenleri</text>
<rect x="791.7" y="980.6" width="12.9" height="17.8" rx="2.8" fill="#f96f49"/>
<text x="808" y="996" font-size="17.2" fill="#444" textLength="183" lengthAdjust="spacingAndGlyphs" >Dem Parti seçmenleri</text>
<text x="29.9" y="1038" font-size="17.3" fill="#444" textLength="65.5" lengthAdjust="spacingAndGlyphs" >Kaynak:</text>
<text x="99.6" y="1038" font-size="17.3" fill="#444" textLength="173.4" lengthAdjust="spacingAndGlyphs" >KONDA Barometresi</text>
<line x1="100.2" x2="272" y1="1040.4" y2="1040.4" stroke="#444" stroke-width="1.5"/>
</g>
</svg>
</body></html>
